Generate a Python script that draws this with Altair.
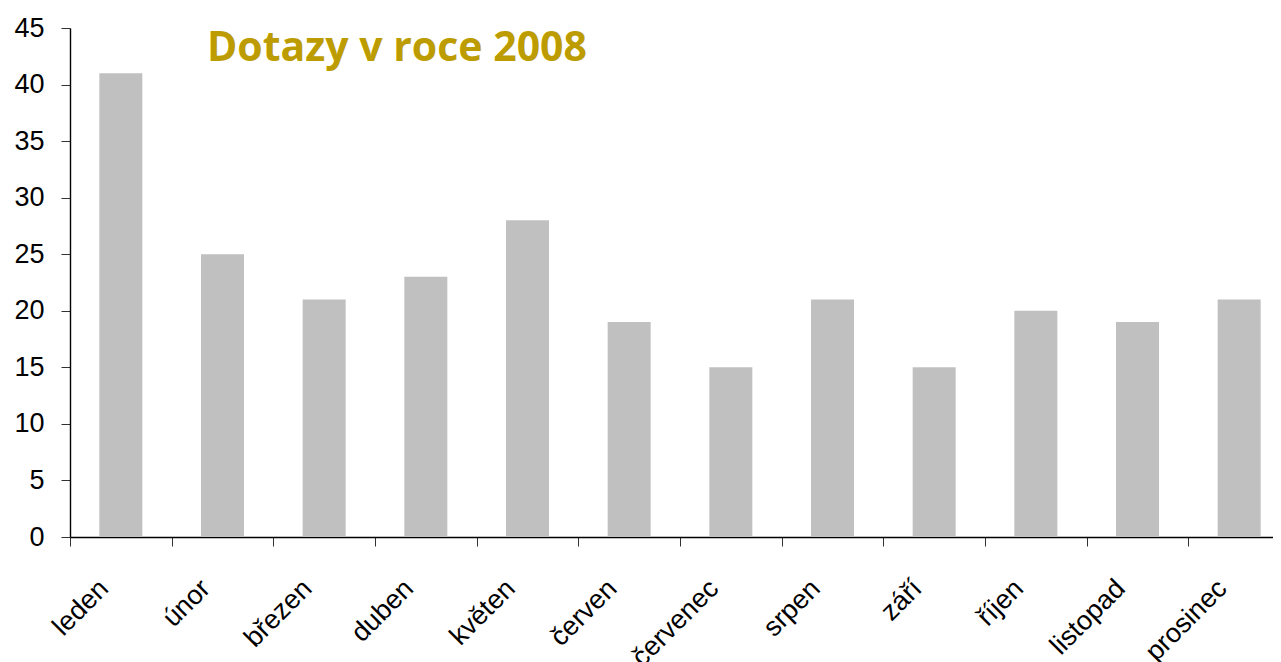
import altair as alt
import pandas as pd

months = ["leden", "únor", "březen", "duben", "květen", "červen",
          "červenec", "srpen", "září", "říjen", "listopad", "prosinec"]
counts = [41, 25, 21, 23, 28, 19, 15, 21, 15, 20, 19, 21]
y_ticks = [0, 5, 10, 15, 20, 25, 30, 35, 40, 45]
title_text = "Dotazy v roce 2008"

df = pd.DataFrame({"mesic": months, "pocet": counts})

bars = alt.Chart(df).mark_bar(color="#C0C0C0", size=43).encode(
    x=alt.X(
        "mesic:N", sort=months,
        scale=alt.Scale(paddingInner=0, paddingOuter=0),
        axis=alt.Axis(
            title=None, labelAngle=-45, labelAlign="right", labelBaseline="middle",
            labelFont="Liberation Sans", labelFontSize=27, labelColor="black",
            labelPadding=38, labelOffset=-17, tickBand="extent", tickSize=9,
            tickColor="#333333", tickWidth=1, domainColor="black",
            domainWidth=1.4, grid=False,
        ),
    ),
    y=alt.Y(
        "pocet:Q",
        scale=alt.Scale(domain=[0, 45], nice=False, zero=True),
        axis=alt.Axis(
            title=None, values=y_ticks, grid=False,
            labelFont="Liberation Sans", labelFontSize=27, labelColor="black",
            labelPadding=17, tickSize=9, tickColor="#333333", tickWidth=1,
            domainColor="black", domainWidth=1.4,
        ),
    ),
)

title = alt.Chart(pd.DataFrame({"t": [title_text]})).mark_text(
    font="Open Sans", fontWeight="bold", fontSize=41, color="#BC9C00",
    align="left", baseline="alphabetic",
).encode(x=alt.value(137), y=alt.value(33), text="t:N")

chart = alt.layer(bars, title).properties(
    width=1220, height=509,
    autosize=alt.AutoSizeParams(type="none"),
    padding={"left": 62, "top": 20, "right": -17, "bottom": 125},
).configure_view(stroke=None)

chart.save("out.html", embed_options={"renderer": "svg", "actions": False})
